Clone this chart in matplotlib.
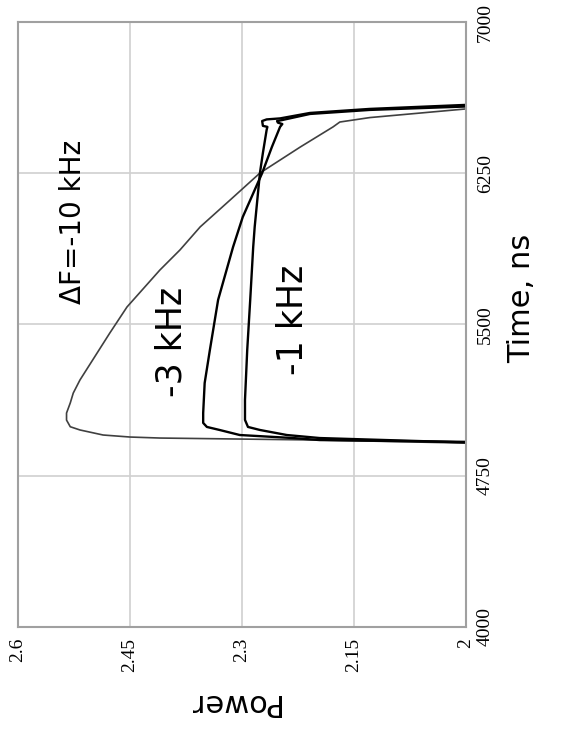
import matplotlib
matplotlib.use("Agg")
import matplotlib.pyplot as plt

t_10k = [4912, 4927, 4937, 4942, 4952, 4977, 4993, 5026, 5061, 5111, 5160, 5225,
         5324, 5458, 5587, 5770, 5870, 5984, 6117, 6251, 6380, 6480, 6504, 6526, 6569]
p_10k = [2.0, 2.196, 2.410, 2.450, 2.486, 2.517, 2.530, 2.535, 2.535, 2.530, 2.526, 2.517,
         2.500, 2.477, 2.454, 2.410, 2.383, 2.356, 2.316, 2.276, 2.222, 2.178, 2.169, 2.129, 2.0]

t_3k = [4918, 4927, 4937, 4952, 4977, 4992, 5012, 5061, 5210, 5374, 5622, 5884,
        6033, 6251, 6380, 6480, 6494, 6501, 6509, 6514, 6544, 6564, 6581]
p_3k = [2.0, 2.196, 2.232, 2.303, 2.330, 2.347, 2.352, 2.352, 2.350, 2.343, 2.332, 2.312,
        2.299, 2.273, 2.260, 2.249, 2.246, 2.252, 2.253, 2.246, 2.209, 2.129, 2.0]

t_1k = [4915, 4937, 4952, 4977, 4992, 5027, 5126, 5374, 5622, 5884, 5984, 6251,
        6351, 6465, 6480, 6485, 6509, 6517, 6522, 6549, 6569, 6589]
p_1k = [2.0, 2.196, 2.240, 2.276, 2.292, 2.296, 2.296, 2.293, 2.289, 2.285, 2.283, 2.276,
        2.272, 2.267, 2.266, 2.272, 2.273, 2.267, 2.249, 2.209, 2.129, 2.0]

power_ticks = [2.6, 2.45, 2.3, 2.15, 2.0]
power_labels = ["2.6", "2.45", "2.3", "2.15", "2"]
time_ticks = [4000, 4750, 5500, 6250, 7000]

fig = plt.figure(figsize=(5.67, 7.31), dpi=100)
ax = fig.add_axes([18/567, 1 - 627/731, 448/567, 605/731])

# chart is drawn rotated: power runs right-to-left, time bottom-to-top
ax.plot(p_10k, t_10k, color="#404040", lw=1.2)
ax.plot(p_3k, t_3k, color="black", lw=1.7)
ax.plot(p_1k, t_1k, color="black", lw=1.7)

ax.set_xlim(2.6, 2.0)
ax.set_ylim(4000, 7000)
ax.set_xticks(power_ticks)
ax.set_xticklabels(power_labels, rotation=90, family="Liberation Serif", fontsize=14)
ax.yaxis.tick_right()
ax.set_yticks(time_ticks)
ax.set_yticklabels([str(t) for t in time_ticks], rotation=90, va="center",
                   family="Liberation Serif", fontsize=14)
ax.tick_params(length=0, pad=8)
ax.grid(True, color="#d0d0d0", lw=1.2)
ax.set_axisbelow(True)
for s in ax.spines.values():
    s.set_color("#a0a0a0")
    s.set_linewidth(1.5)

fig.text(233/567, 1 - 702/731, "Power", rotation=180, ha="center", va="center",
         fontsize=22, family="DejaVu Sans")
fig.text(522/567, 1 - 298/731, "Time, ns", rotation=90, ha="center", va="center",
         fontsize=22, family="DejaVu Sans")

ax.text(2.526, 6008, "\u0394F=-10 kHz", rotation=90, ha="center", va="center", fontsize=20)
ax.text(2.394, 5413, "-3 kHz", rotation=90, ha="center", va="center", fontsize=25)
ax.text(2.232, 5522, "-1 kHz", rotation=90, ha="center", va="center", fontsize=25)

fig.savefig("out.png", dpi=100)
